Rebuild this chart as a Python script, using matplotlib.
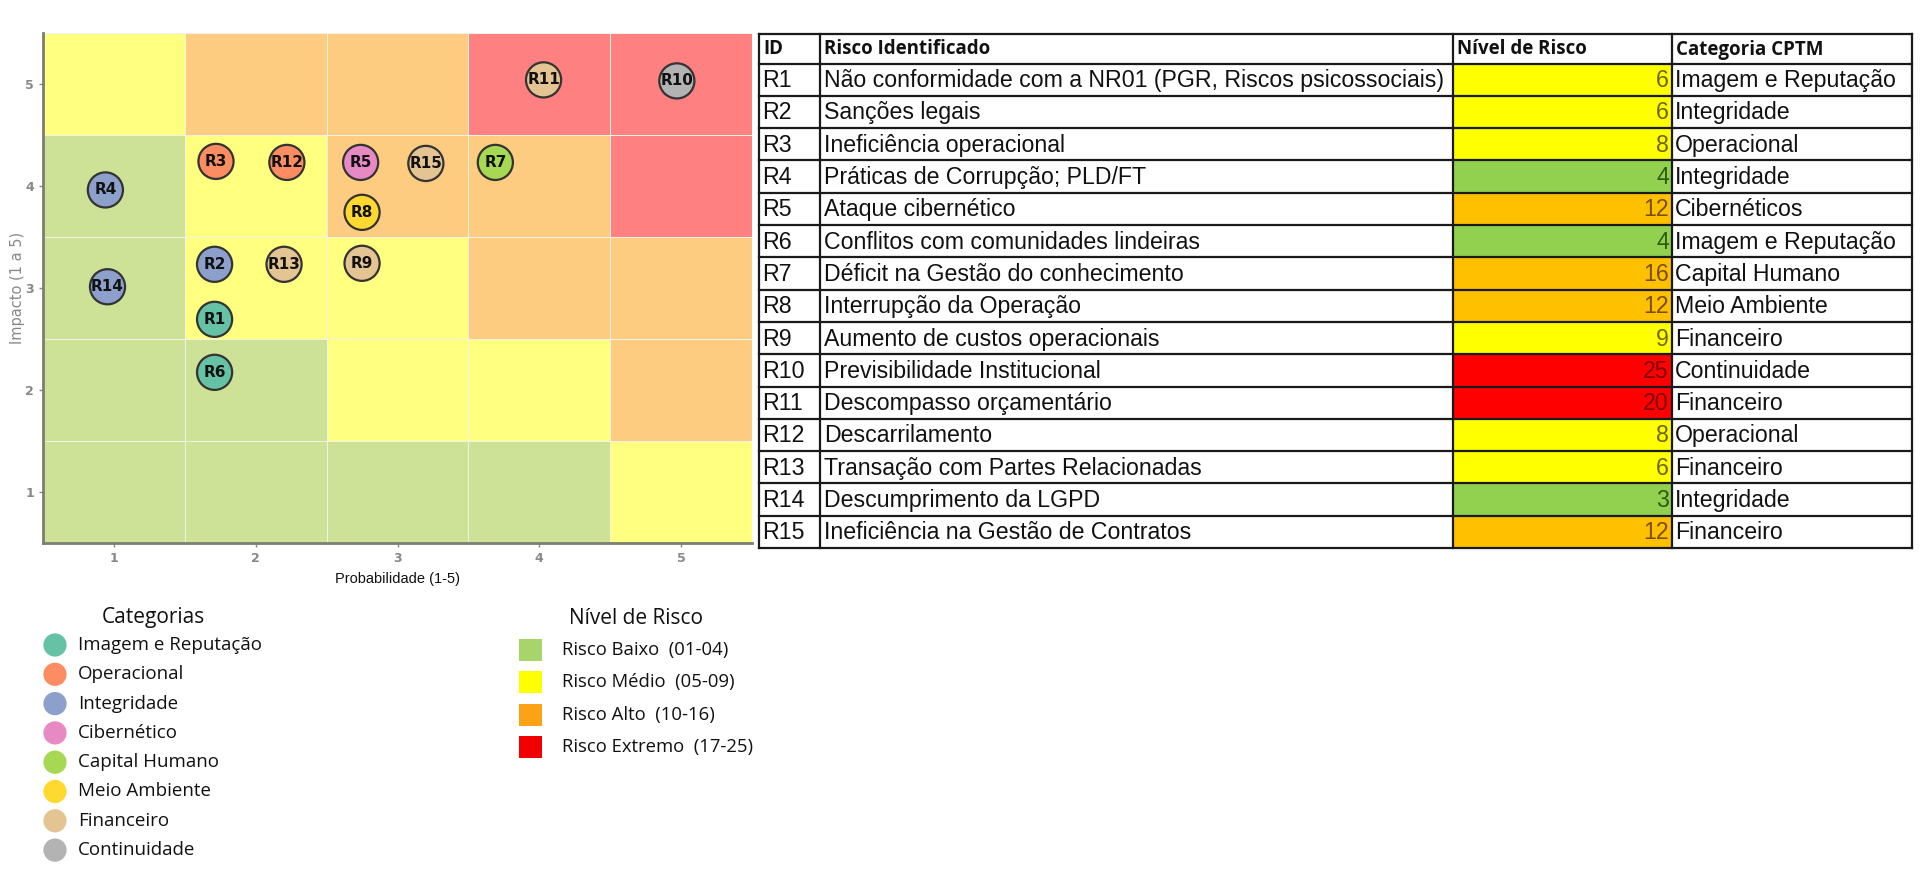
import numpy as np
import matplotlib.pyplot as plt
from matplotlib.colors import ListedColormap, BoundaryNorm
from matplotlib.patches import Rectangle

# risks plotted on the matrix
risk_ids = ["R1", "R2", "R3", "R4", "R5", "R6", "R7", "R8", "R9", "R10",
            "R11", "R12", "R13", "R14", "R15"]
risk_names = ["Não conformidade com a NR01 (PGR, Riscos psicossociais)",
              "Sanções legais",
              "Ineficiência operacional",
              "Práticas de Corrupção; PLD/FT",
              "Ataque cibernético",
              "Conflitos com comunidades lindeiras",
              "Déficit na Gestão do conhecimento",
              "Interrupção da Operação",
              "Aumento de custos operacionais",
              "Previsibilidade Institucional",
              "Descompasso orçamentário",
              "Descarrilamento",
              "Transação com Partes Relacionadas",
              "Descumprimento da LGPD",
              "Ineficiência na Gestão de Contratos"]
risk_levels = [6, 6, 8, 4, 12, 4, 16, 12, 9, 25, 20, 8, 6, 3, 12]
risk_cat_table = ["Imagem e Reputação", "Integridade", "Operacional", "Integridade",
                  "Cibernéticos", "Imagem e Reputação", "Capital Humano", "Meio Ambiente",
                  "Financeiro", "Continuidade", "Financeiro", "Operacional",
                  "Financeiro", "Integridade", "Financeiro"]
# bubble category (legend name) and position on the matrix
risk_cat = ["Imagem e Reputação", "Integridade", "Operacional", "Integridade",
            "Cibernético", "Imagem e Reputação", "Capital Humano", "Meio Ambiente",
            "Financeiro", "Continuidade", "Financeiro", "Operacional",
            "Financeiro", "Integridade", "Financeiro"]
prob_x = [1.71, 1.71, 1.72, 0.94, 2.74, 1.71, 3.69, 2.75, 2.75, 4.97,
          4.03, 2.22, 2.20, 0.955, 3.20]
impact_y = [2.69, 3.23, 4.24, 3.96, 4.23, 2.17, 4.23, 3.74, 3.24, 5.03,
            5.04, 4.23, 3.23, 3.01, 4.22]

categories = ["Imagem e Reputação", "Operacional", "Integridade", "Cibernético",
              "Capital Humano", "Meio Ambiente", "Financeiro", "Continuidade"]
cat_colors = ["#66c2a5", "#fc8d62", "#8da0cb", "#e78ac3",
              "#a6d854", "#ffd92f", "#e5c494", "#b3b3b3"]

level_names = ["Risco Baixo  (01-04)", "Risco Médio  (05-09)",
               "Risco Alto  (10-16)", "Risco Extremo  (17-25)"]
level_bounds = [0.5, 4.5, 9.5, 16.5, 25.5]
level_colors = ["#a8d46c", "#ffff00", "#fba314", "#f00000"]
matrix_colors = ["#cde296", "#ffff80", "#fecc80", "#ff8080"]
table_fill = ["#92d050", "#ffff00", "#ffc000", "#ff0000"]
table_text = ["#2f5a12", "#6e6400", "#7a4e00", "#7a0000"]

prob = np.arange(1, 6)
impact = np.arange(1, 6)

fig = plt.figure(figsize=(19.2, 8.74), dpi=100)

# overlay in pixel coordinates for the table and legends
ov = fig.add_axes([0, 0, 1, 1])
ov.set_xlim(0, 1920)
ov.set_ylim(874, 0)
ov.axis("off")

# ---- risk matrix ----
ax = fig.add_axes([43 / 1920, 1 - 542.5 / 874, (752 - 43) / 1920, (542.5 - 33) / 874])
score = np.outer(impact, prob)
cmap = ListedColormap(matrix_colors)
norm = BoundaryNorm(level_bounds, cmap.N)
ax.pcolormesh(np.arange(0.5, 6), np.arange(0.5, 6), score, cmap=cmap, norm=norm,
              edgecolor="#f2f2e6", linewidth=0.4)
ax.set_xlim(0.5, 5.5)
ax.set_ylim(0.5, 5.5)

bubble_colors = [cat_colors[categories.index(c)] for c in risk_cat]
ax.scatter(prob_x, impact_y, s=640, c=bubble_colors, edgecolors="#333333",
           linewidths=1.6, zorder=3)
for rid, x, y in zip(risk_ids, prob_x, impact_y):
    ax.text(x, y, rid, ha="center", va="center", fontsize=11, fontweight="bold",
            color="#111111", zorder=4)

ax.set_xticks(prob)
ax.set_yticks(impact)
ax.tick_params(colors="#888888", labelsize=9, length=3, width=1)
for lab in ax.get_xticklabels() + ax.get_yticklabels():
    lab.set_fontweight("bold")
for s in ["top", "right"]:
    ax.spines[s].set_visible(False)
for s in ["left", "bottom"]:
    ax.spines[s].set_color("#7a7f72")
    ax.spines[s].set_linewidth(2)
ax.set_xlabel("Probabilidade (1-5)", fontsize=10.5, family="Liberation Sans",
              color="#111111")
ax.set_ylabel("Impacto (1 a 5)", fontsize=10.5, color="#888888")
ax.xaxis.set_label_coords(0.5, -0.058)
ax.yaxis.set_label_coords(-0.026, 0.5)

# ---- table ----
col_x = [759, 820, 1453, 1672, 1912]
top = 33.5
head_bottom = 63.5
row_h = 32.3
row_top = [head_bottom + i * row_h for i in range(len(risk_ids))]
bottom = row_top[-1] + row_h

for i, lvl in enumerate(risk_levels):
    k = np.searchsorted(level_bounds, lvl) - 1
    ov.add_patch(Rectangle((col_x[2], row_top[i]), col_x[3] - col_x[2], row_h,
                           facecolor=table_fill[k], edgecolor="none", zorder=1))

line_kw = dict(color="#1a1a1a", lw=1.6, zorder=2)
ov.plot([col_x[0], col_x[-1]], [top, top], **line_kw)
ov.plot([col_x[0], col_x[-1]], [head_bottom, head_bottom], **line_kw)
for y in row_top:
    ov.plot([col_x[0], col_x[-1]], [y + row_h, y + row_h], **line_kw)
for x in col_x:
    ov.plot([x, x], [top, bottom], **line_kw)

headers = ["ID", "Risco Identificado", "Nível de Risco", "Categoria CPTM"]
for x, h in zip(col_x[:-1], headers):
    ov.text(x + 4, (top + head_bottom) / 2 + 1, h, ha="left", va="center",
            fontsize=13.5, fontweight="bold", family="Open Sans", color="#111111")

body = dict(fontsize=16.7, family="Liberation Sans", color="#111111", va="center")
for i in range(len(risk_ids)):
    yc = row_top[i] + row_h / 2 + 1
    k = np.searchsorted(level_bounds, risk_levels[i]) - 1
    ov.text(col_x[0] + 3, yc, risk_ids[i], ha="left", **body)
    ov.text(col_x[1] + 4, yc, risk_names[i], ha="left", **body)
    ov.text(col_x[3] - 3, yc, str(risk_levels[i]), ha="right",
            **{**body, "color": table_text[k]})
    ov.text(col_x[3] + 3, yc, risk_cat_table[i], ha="left", **body)

# ---- legends ----
ov.text(153, 618, "Categorias", ha="center", va="center", fontsize=15,
        family="Open Sans", color="#111111")
for i, (c, col) in enumerate(zip(categories, cat_colors)):
    y = 645 + i * 29.3
    ov.scatter([55], [y], s=280, c=col, edgecolors="none")
    ov.text(78, y, c, ha="left", va="center", fontsize=13.5, family="Open Sans",
            color="#111111")

ov.text(636, 618, "Nível de Risco", ha="center", va="center", fontsize=15,
        family="Open Sans", color="#111111")
for i, (n, col) in enumerate(zip(level_names, level_colors)):
    y = 650 + i * 32.4
    ov.add_patch(Rectangle((519, y - 11), 23, 22, facecolor=col, edgecolor="none"))
    ov.text(562, y, n, ha="left", va="center", fontsize=13.3, family="Open Sans",
            color="#111111")

fig.savefig("out.png", dpi=100)
